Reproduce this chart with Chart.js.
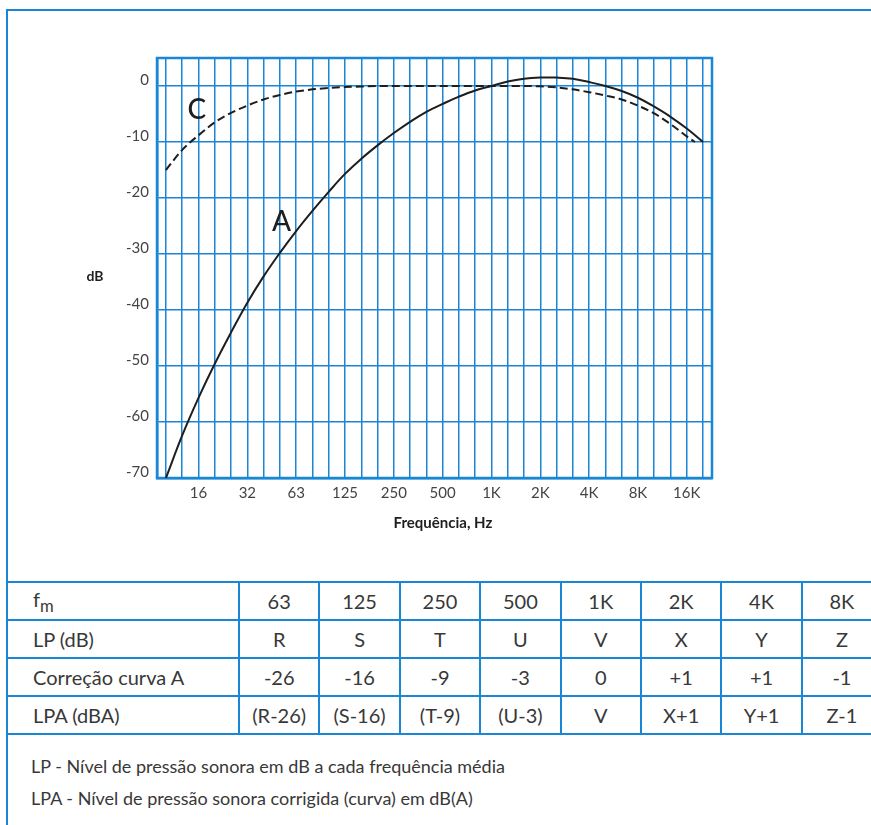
<!DOCTYPE html>
<html lang="pt">
<head>
<meta charset="utf-8">
<title>Curvas de ponderação A e C</title>
<script src="https://cdn.jsdelivr.net/npm/chart.js@4/dist/chart.umd.min.js"></script>
<style>
  body { margin: 0; width: 871px; height: 825px; overflow: hidden; position: relative; background: #fff;
         font-family: Lato, "DejaVu Sans", sans-serif; color: #333; }
  #frame { position: absolute; left: 6px; top: 9px; width: 1000px; height: 1000px;
           border-top: 2px solid #1a86d6; border-left: 2px solid #1a86d6; }
  #chartBox { position: absolute; left: 0; top: 0; width: 871px; height: 560px; }
  #bands { position: absolute; left: 6px; top: 581px; border-collapse: collapse; table-layout: fixed; width: 875px; }
  #bands td { border: 2px solid #1a86d6; height: 36px; padding: 0; text-align: center; font-size: 20px; color: #383838; }
  #bands td.head { text-align: left; padding-left: 25px; }
  .note { position: absolute; left: 31px; font-size: 18px; line-height: 32px; color: #383838; }
</style>
</head>
<body>
<div id="frame"></div>
<div id="chartBox"><canvas id="myChart"></canvas></div>
<table id="bands"><colgroup id="cols"></colgroup><tbody id="rows"></tbody></table>
<div class="note" style="top:750px">LP - Nível de pressão sonora em dB a cada frequência média</div>
<div class="note" style="top:782px">LPA - Nível de pressão sonora corrigida (curva) em dB(A)</div>

<script>
// third-octave band index, 0 = 1 kHz (10 Hz ... 20 kHz)
const bands = [-20, -19, -18, -17, -16, -15, -14, -13, -12, -11, -10, -9, -8, -7, -6, -5, -4,
               -3, -2, -1, 0, 1, 2, 3, 4, 5, 6, 7, 8, 9, 10, 11, 12, 13];
const curveA = [-70, -62.4, -55.7, -49.6, -44.0, -38.7, -34.0, -29.8, -25.9, -22.3, -18.9, -15.7, -13.0, -10.6, -8.4, -6.4, -4.6,
                -3.2, -1.9, -0.8, 0, 0.8, 1.3, 1.5, 1.5, 1.3, 0.7, 0, -0.9, -2.1, -3.7, -5.5, -7.6, -10];

const bandsC = [-20, -19, -18, -17, -16, -15, -14, -13, -12, -11, -10, -9, -8, -7, -6, -5, -4,
                -3, -2, -1, 0, 1, 2, 3, 4, 5, 6, 7, 8, 9, 10, 11, 12, 12.5];
const curveC = [-15, -11.4, -8.8, -6.5, -4.8, -3.5, -2.4, -1.6, -1.0, -0.6, -0.35, -0.2, -0.1, 0, 0, 0, 0,
                0, 0, 0, 0, 0, 0, -0.05, -0.25, -0.6, -1.1, -1.7, -2.4, -3.5, -4.9, -6.8, -9.0, -10];

// octave labels on the frequency axis
const octaveBands = [-18, -15, -12, -9, -6, -3, 0, 3, 6, 9, 12];
const octaveLabels = ['16', '32', '63', '125', '250', '500', '1K', '2K', '4K', '8K', '16K'];
const dbTicks = [-70, -60, -50, -40, -30, -20, -10, 0];

// table below the chart
const fm = ['63', '125', '250', '500', '1K', '2K', '4K', '8K'];
const lp = ['R', 'S', 'T', 'U', 'V', 'X', 'Y', 'Z'];
const correcaoA = ['-26', '-16', '-9', '-3', '0', '+1', '+1', '-1'];
const lpa = ['(R-26)', '(S-16)', '(T-9)', '(U-3)', 'V', 'X+1', 'Y+1', 'Z-1'];

const blue = '#1a86d6';
const ink = '#1e1e1e';
Chart.defaults.font.family = 'Lato, "DejaVu Sans", sans-serif';

// grid frame + curve letters + axis names
const decorations = {
  id: 'decorations',
  beforeDatasetsDraw(chart) {
    const a = chart.chartArea;
    const c = chart.ctx;
    c.save();
    c.strokeStyle = blue;
    c.lineWidth = 2.5;
    c.strokeRect(a.left, a.top, a.right - a.left, a.bottom - a.top);
    c.restore();
  },
  afterDraw(chart) {
    const c = chart.ctx;
    const x = chart.scales.x, y = chart.scales.y;
    c.save();
    c.fillStyle = ink;
    c.textAlign = 'center';
    c.textBaseline = 'middle';
    c.font = '500 28px Lato, "DejaVu Sans", sans-serif';
    c.fillText('C', x.getPixelForValue(-18.1), y.getPixelForValue(-4.3));
    c.fillText('A', x.getPixelForValue(-12.9), y.getPixelForValue(-24.2));
    c.font = 'bold 14px Lato, "DejaVu Sans", sans-serif';
    c.fillText('dB', 95, y.getPixelForValue(-34));
    c.font = 'bold 15px Lato, "DejaVu Sans", sans-serif';
    c.fillText('Frequência, Hz', 443, 523);
    c.restore();
  }
};

const ctx = document.getElementById('myChart').getContext('2d');
const myChart = new Chart(ctx, {
  type: 'scatter',
  data: {
    datasets: [
      {
        label: 'A',
        data: bands.map((b, i) => ({ x: b, y: curveA[i] })),
        showLine: true,
        borderColor: ink,
        borderWidth: 2,
        pointRadius: 0,
        tension: 0.4
      },
      {
        label: 'C',
        data: bandsC.map((b, i) => ({ x: b, y: curveC[i] })),
        showLine: true,
        borderColor: ink,
        borderWidth: 2,
        borderDash: [8, 4],
        pointRadius: 0,
        cubicInterpolationMode: 'monotone'
      }
    ]
  },
  options: {
    responsive: true,
    maintainAspectRatio: false,
    animation: false,
    devicePixelRatio: 1,
    layout: { padding: { left: 0, top: 58, right: 159, bottom: 0 } },
    plugins: { legend: { display: false }, tooltip: { enabled: false } },
    scales: {
      x: {
        type: 'linear',
        min: -20.55,
        max: 13.55,
        afterBuildTicks: scale => { scale.ticks = bands.map(v => ({ value: v })); },
        afterFit: scale => { scale.height = 82; },
        grid: { color: blue, lineWidth: 1.5, drawTicks: false },
        border: { display: true, color: blue, width: 2.5 },
        ticks: {
          autoSkip: false,
          maxRotation: 0,
          padding: 6,
          color: '#444',
          font: { size: 15 },
          callback: v => {
            const i = octaveBands.indexOf(v);
            return i >= 0 ? octaveLabels[i] : '';
          }
        }
      },
      y: {
        min: -70,
        max: 5,
        afterBuildTicks: scale => { scale.ticks = dbTicks.map(v => ({ value: v })); },
        afterFit: scale => { scale.width = 157; },
        grid: { color: blue, lineWidth: 1.5, drawTicks: false },
        border: { display: true, color: blue, width: 2.5 },
        ticks: {
          padding: 8,
          labelOffset: -6,
          color: '#444',
          font: { size: 15 },
          callback: v => String(v)
        }
      }
    }
  },
  plugins: [decorations]
});

// build the correction table
const cols = document.getElementById('cols');
[232].concat(fm.map(() => 80.4)).forEach(w => {
  const col = document.createElement('col');
  col.style.width = w + 'px';
  cols.appendChild(col);
});
const rows = document.getElementById('rows');
[['f<sub>m</sub>', fm], ['LP (dB)', lp], ['Correção curva A', correcaoA], ['LPA (dBA)', lpa]].forEach(([head, cells]) => {
  const tr = document.createElement('tr');
  const th = document.createElement('td');
  th.className = 'head';
  th.innerHTML = head;
  tr.appendChild(th);
  cells.forEach(t => {
    const td = document.createElement('td');
    td.textContent = t;
    tr.appendChild(td);
  });
  rows.appendChild(tr);
});
</script>
</body>
</html>
